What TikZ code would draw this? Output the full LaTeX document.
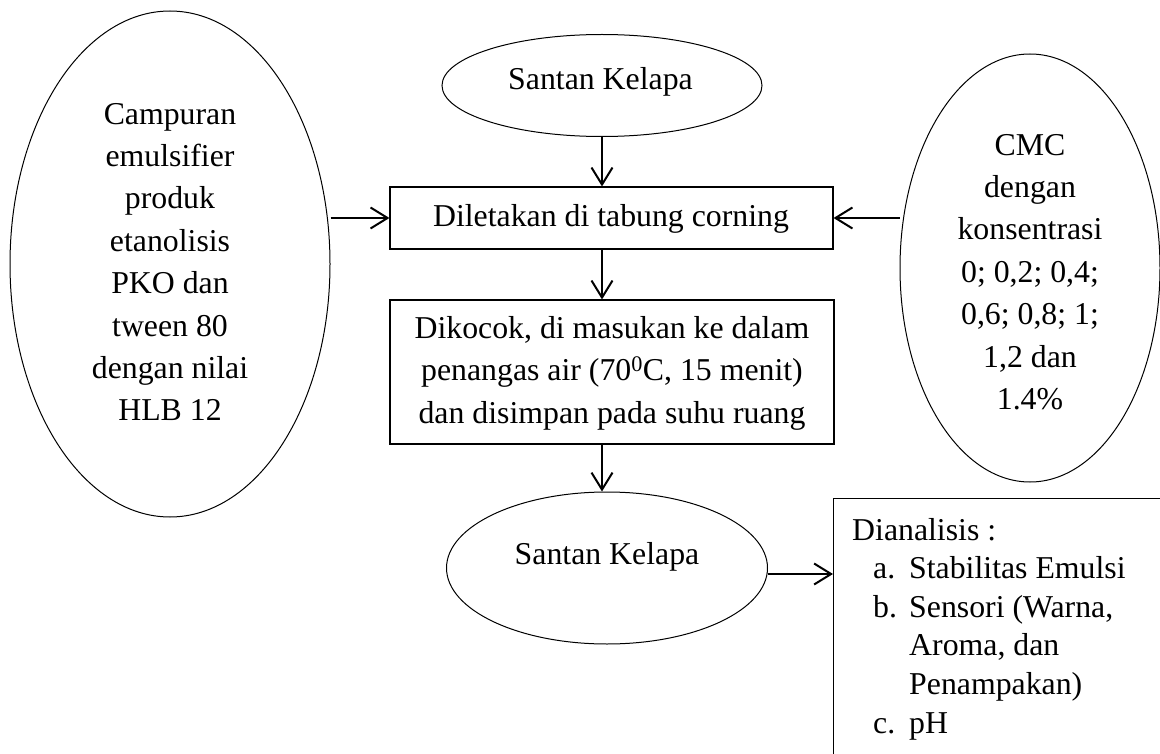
\documentclass[tikz,border=0pt]{standalone}
\usepackage{fontspec}
\setmainfont{Liberation Serif}
\usetikzlibrary{arrows.meta,shapes.geometric}
\begin{document}
\begin{tikzpicture}[x=1pt,y=-1pt,
  txt/.style={font=\fontsize{31.8}{42.4}\selectfont, align=center, inner sep=0pt},
  ltxt/.style={font=\fontsize{31.8}{38.6}\selectfont, inner sep=0pt, anchor=base west},
  oval/.style={draw, ellipse, line width=1pt, inner sep=0pt},
  box/.style={draw, line width=1.1pt, inner sep=0pt},
  arr/.style={line width=2pt, -{Straight Barb[length=17pt,width=21pt,line width=2pt]}}
]
\useasboundingbox (0,0) rectangle (1160,754);
\clip (0,0) rectangle (1160,754);
% shapes
\node[oval, minimum width=320pt, minimum height=506pt] (L) at (170,264) {};
\node[oval, minimum width=260pt, minimum height=428pt] (R) at (1030,268) {};
\node[oval, minimum width=320pt, minimum height=102pt] (T) at (602,85.5) {};
\node[oval, minimum width=321pt, minimum height=152pt] (E) at (607,568) {};
\node[box, minimum width=443pt, minimum height=62pt] (B1) at (611.5,218) {};
\node[box, minimum width=444pt, minimum height=144pt] (B2) at (612,372) {};
\node[box, anchor=north west, minimum width=400pt, minimum height=320pt] (A) at (833,498) {};
% texts
\node[txt] (Lt) at (170,262) {Campuran\\emulsifier\\produk\\etanolisis\\PKO dan\\tween 80\\dengan nilai\\HLB 12};
\node[txt] (Rt) at (1030,272) {CMC\\dengan\\konsentrasi\\0; 0,2; 0,4;\\0,6; 0,8; 1;\\1,2 dan\\1.4\%};
\node[txt] (Tt) at (600.5,82) {Santan Kelapa};
\node[txt] (Et) at (607,557) {Santan Kelapa};
\node[txt] (B1t) at (611,219) {Diletakan di tabung corning};
\node[txt] (B2t) at (612,373) {Dikocok, di masukan ke dalam\\penangas air (70\textsuperscript{0}C, 15 menit)\\dan disimpan pada suhu ruang};
\node[ltxt] (A0) at (852,540) {Dianalisis :};
\node[ltxt] (A1) at (873,578.6) {a.};
\node[ltxt] (A1t) at (909,578.6) {Stabilitas Emulsi};
\node[ltxt] (A2) at (873,617.2) {b.};
\node[ltxt] (A2t) at (909,617.2) {Sensori (Warna,};
\node[ltxt] (A3t) at (909,655.8) {Aroma, dan};
\node[ltxt] (A4t) at (909,694.4) {Penampakan)};
\node[ltxt] (A5) at (873,733) {c.};
\node[ltxt] (A5t) at (909,733) {pH};
% arrows
\draw[arr] (T.south) -- (T.south |- B1.north);
\draw[arr] (B1.west -| L.east) -- (B1.west);
\draw[arr] (B1.east -| R.west) -- (B1.east);
\draw[arr] (B1.south -| T.south) -- (B2.north -| T.south);
\draw[arr] (B2.south -| T.south) -- (E.north -| T.south);
\draw[arr] ([yshift=-6pt]E.east) -- ([yshift=-6pt]E.east -| A.west);
\end{tikzpicture}
\end{document}
